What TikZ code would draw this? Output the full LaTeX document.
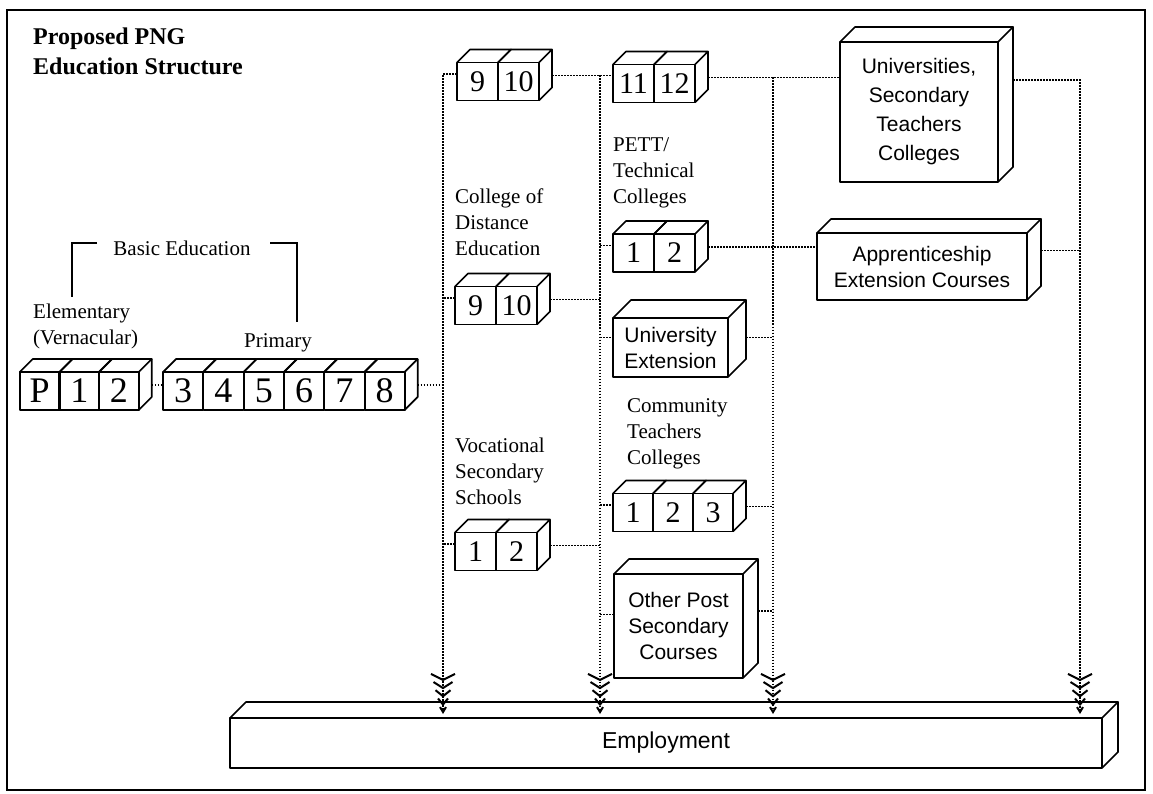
\documentclass[tikz,border=0pt]{standalone}
\usepackage{fontspec}
\setmainfont{Liberation Serif}
\setsansfont{Liberation Sans}
\usepackage{tikz}
\usetikzlibrary{positioning, arrows.meta, calc}
\newcommand{\numfont}{\fontsize{30}{30}\selectfont}
\newcommand{\bignumfont}{\fontsize{36}{36}\selectfont}
\newcommand{\lblfont}{\fontsize{21}{26}\selectfont}
\newcommand{\boxfont}{\sffamily\fontsize{21}{26}\selectfont}
\newcommand{\topface}[2][13]{\draw[solidline] (#2.north west) -- ++(#1,-#1) -- ($(#2.north east)+(#1,-#1)$) -- (#2.north east);}
\newcommand{\sideface}[2][13]{\draw[solidline] ($(#2.north east)+(#1,-#1)$) -- ($(#2.south east)+(#1,-#1)$) -- (#2.south east);}

\begin{document}
\begin{tikzpicture}[x=1pt, y=-1pt,
		solidline/.style={line width=1.7pt, line join=round},
		cell/.style={draw, solidline, minimum width=41pt, minimum height=38pt, inner sep=0pt, outer sep=0pt, font=\numfont},
		bigcell/.style={minimum width=40pt, font=\bignumfont},
		block/.style={draw, solidline, inner sep=0pt, outer sep=0pt, align=center, font=\boxfont},
		lbl/.style={anchor=north west, inner sep=0pt, align=left, font=\lblfont},
		link/.style={line width=1.6pt, dash pattern=on 1.6pt off 1.4pt},
		sink/.style={-{Straight Barb[length=6pt,width=24pt,line width=2pt] Straight Barb[length=6pt,width=19pt,line width=2pt] Straight Barb[length=6pt,width=15pt,line width=2pt] Straight Barb[length=6pt,width=10pt,line width=2pt] Straight Barb[length=5pt,width=6pt,line width=2pt]}, shorten >=4pt}]
		
		\useasboundingbox (0,0) rectangle (1153,794);
		
		% Draw frame
		\draw[line width=1.5pt] (7,10) rectangle (1145,790);
		
		% Add labels
		\node[lbl, font=\bfseries\fontsize{24}{30}\selectfont] (title) at (33,28) {Proposed PNG\\Education Structure};
		\node[font=\lblfont, anchor=base, inner sep=0pt] (basic) at (182,255) {Basic Education};
		\draw[line width=1.5pt] (97,243) -- (72,243) -- (72,297);
		\draw[line width=1.5pt] (270,243) -- (297,243) -- (297,322);
		\node[lbl] (elem) at (33,303.5) {Elementary\\(Vernacular)};
		\node[font=\lblfont, anchor=base, inner sep=0pt] (prim) at (278,347) {Primary};
		\node[lbl] (cdlbl) at (455,188.5) {College of\\Distance\\Education};
		\node[lbl] (ptlbl) at (613,137.5) {PETT/\\Technical\\Colleges};
		\node[lbl] (ctlbl) at (627,398.5) {Community\\Teachers\\Colleges};
		\node[lbl] (vslbl) at (455,437.5) {Vocational\\Secondary\\Schools};
		
		% Draw grade cubes
		\foreach \lab [count=\i] in {P,1,2}
		\node[cell, bigcell] (el\lab) at ({20+39.5*(\i-0.5)},391) {\lab};
		\foreach \lab [count=\i] in {3,...,8}
		\node[cell, bigcell] (pr\lab) at ({163+40.3*(\i-0.5)},391) {\lab};
		\foreach \n/\x/\y/\lab in {ls9/477.5/81.5/9, ls10/518.5/81.5/10, us11/633.5/83.5/11, us12/674.5/83.5/12,
			cd9/475.5/305.5/9, cd10/516.5/305.5/10, pt1/633.5/253/1, pt2/674.5/253/2,
			vs1/475.5/551.5/1, vs2/516.5/551.5/2}
		\node[cell] (\n) at (\x,\y) {\lab};
		\foreach \lab [count=\i] in {1,2,3}
		\node[cell, minimum width=40pt] (ct\lab) at ({613+40*(\i-0.5)},512.5) {\lab};
		
		% Draw institution blocks
		\node[block, minimum width=158pt, minimum height=140pt, font=\sffamily\fontsize{21}{29}\selectfont] (univ) at (919,112) {Universities,\\Secondary\\Teachers\\Colleges};
		\node[block, minimum width=210pt, minimum height=67pt] (appr) at (922,266.5) {Apprenticeship\\Extension Courses};
		\node[block, minimum width=115pt, minimum height=59pt] (uniext) at (670.5,347.5) {University\\Extension};
		\node[block, minimum width=129pt, minimum height=104pt] (opsc) at (678.5,626) {Other Post\\Secondary\\Courses};
		\node[block, minimum width=872pt, minimum height=50pt, font=\sffamily\fontsize{23}{23}\selectfont] (employ) at (666,743) {Employment};
		
		% Add depth faces
		\foreach \n in {elP,el1,el2,pr3,pr4,pr5,pr6,pr7,pr8,ls9,ls10,us11,us12,cd9,cd10,pt1,pt2,ct1,ct2,ct3,vs1,vs2}
		\topface{\n};
		\foreach \n in {el2,pr8,ls10,us12,cd10,pt2,ct3,vs2}
		\sideface{\n};
		\topface[15]{univ} \sideface[15]{univ}
		\topface[14]{appr} \sideface[14]{appr}
		\topface[18]{uniext} \sideface[18]{uniext}
		\topface[15]{opsc} \sideface[15]{opsc}
		\topface[16]{employ} \sideface[16]{employ}
		
		% Connector ends
		\foreach \n in {el2,pr8,ls10,us12,cd10,pt2,ct3,vs2}
		\coordinate (\n-r) at ($(\n.east)+(13,-6)$);
		\coordinate (univ-r) at ($(univ.east)+(15,-32)$);
		\coordinate (appr-r) at ($(appr.east)+(14,-16)$);
		\coordinate (uniext-r) at ($(uniext.east)+(18,-10)$);
		\coordinate (opsc-r) at ($(opsc.east)+(15,-15)$);
		\coordinate (busA) at (443,0);
		\coordinate (busB) at (600,0);
		\coordinate (busC) at (773,0);
		\coordinate (busD) at (1080,0);
		
		% Draw pathways
		\draw[link] (el2-r) -- (el2-r -| pr3.west);
		\draw[link] (pr8-r) -- (pr8-r -| busA);
		\draw[link, sink] (ls9.160) -- (ls9.160 -| busA) -- (busA |- employ.north);
		\draw[link] (cd9.160) -- (cd9.160 -| busA);
		\draw[link] (vs1.160) -- (vs1.160 -| busA);
		
		\draw[link] (ls10-r) -- (ls10-r -| us11.west);
		\draw[link, sink] (ls10-r -| busB) -- (busB |- employ.north);
		\draw[link] (cd10-r) -- (cd10-r -| busB);
		\draw[link] (vs2-r) -- (vs2-r -| busB);
		\foreach \n in {pt1.160,uniext.170,ct1.160,opsc.170}
		\draw[link] (\n -| busB) -- (\n);
		
		\draw[link] (us12-r) -- (us12-r -| univ.west);
		\draw[link, sink] (us12-r -| busC) -- (busC |- employ.north);
		\draw[link] (pt2-r) -- (pt2-r -| appr.west);
		\foreach \n in {uniext,ct3,opsc}
		\draw[link] (\n-r) -- (\n-r -| busC);
		
		\draw[link, sink] (univ-r) -| (busD |- employ.north);
		\draw[link] (appr-r) -- (appr-r -| busD);
		
\end{tikzpicture}
\end{document}
